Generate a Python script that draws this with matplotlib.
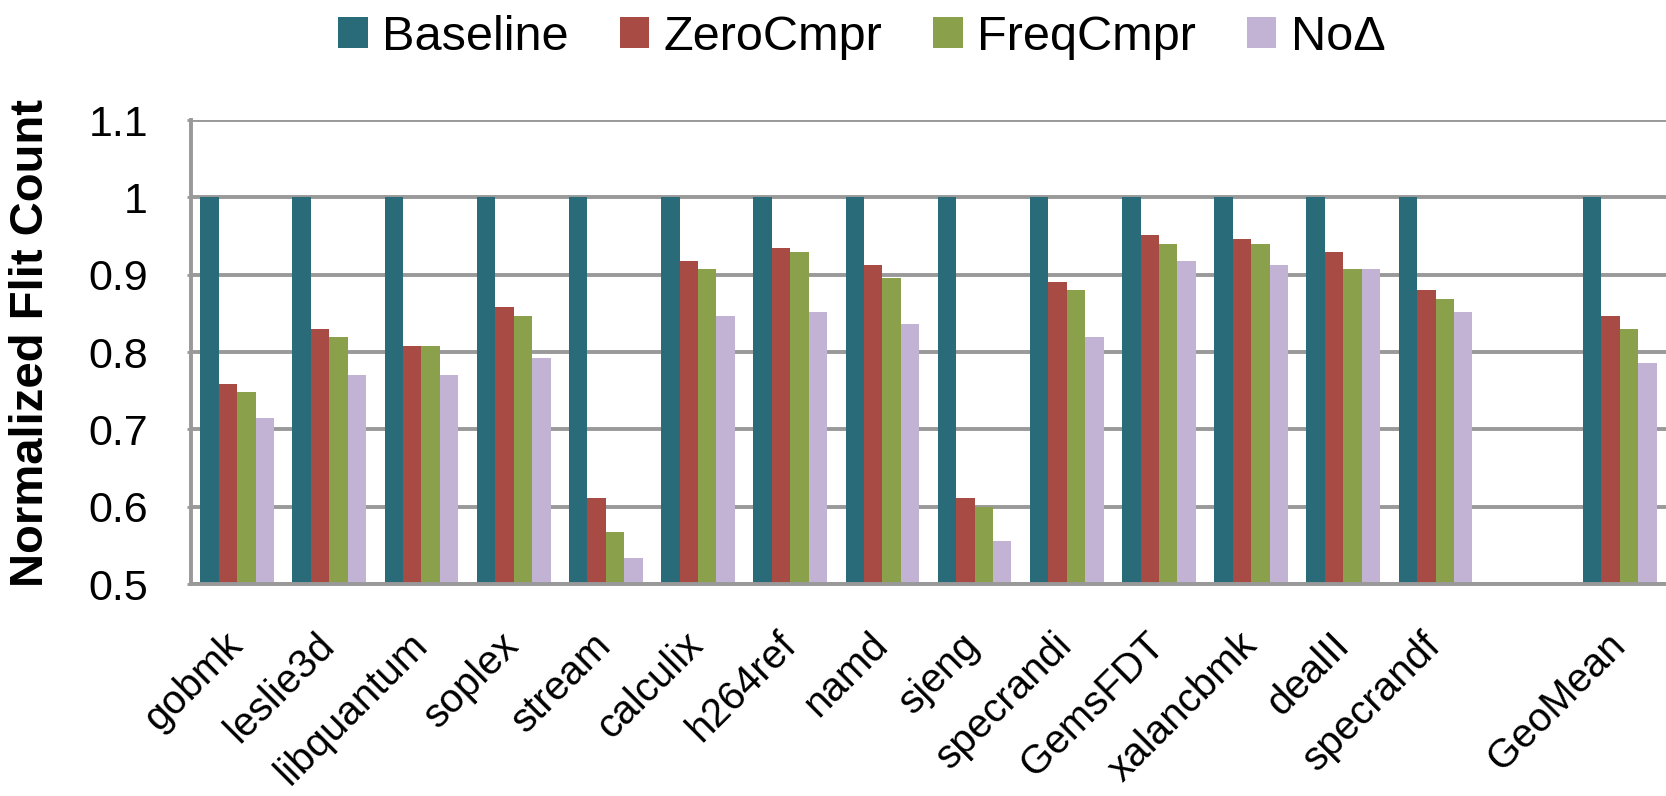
import numpy as np
import matplotlib.pyplot as plt
import matplotlib.transforms as mtransforms

plt.rcParams['font.family'] = ['Liberation Sans', 'DejaVu Sans']

benchmarks = ['gobmk', 'leslie3d', 'libquantum', 'soplex', 'stream', 'calculix',
              'h264ref', 'namd', 'sjeng', 'specrandi', 'GemsFDT', 'xalancbmk',
              'dealII', 'specrandf', 'GeoMean']
slots = [0, 1, 2, 3, 4, 5, 6, 7, 8, 9, 10, 11, 12, 13, 15]   # gap before GeoMean

baseline = [1.0] * 15
zero_cmpr = [0.759, 0.830, 0.808, 0.858, 0.611, 0.918, 0.934, 0.912, 0.611,
             0.891, 0.951, 0.946, 0.929, 0.880, 0.847]
freq_cmpr = [0.748, 0.819, 0.808, 0.847, 0.567, 0.907, 0.929, 0.896, 0.600,
             0.880, 0.940, 0.940, 0.907, 0.869, 0.830]
no_delta = [0.715, 0.770, 0.770, 0.792, 0.534, 0.847, 0.852, 0.836, 0.556,
            0.819, 0.918, 0.912, 0.907, 0.852, 0.786]

series = ['Baseline', 'ZeroCmpr', 'FreqCmpr', 'NoΔ']
colors = ['#2A6B7A', '#A84B45', '#8AA04A', '#C2B2D3']

fig = plt.figure(figsize=(16.66, 7.96), dpi=100)
ax = fig.add_axes([191 / 1666, 1 - 584 / 796, 1 - 191 / 1666, (584 - 120) / 796])

x = np.array(slots, dtype=float)
w = 0.2
for i, (vals, name, c) in enumerate(zip([baseline, zero_cmpr, freq_cmpr, no_delta], series, colors)):
    ax.bar(x + (i - 1.5) * w, vals, width=w, color=c, label=name,
           edgecolor='none', zorder=2)

ax.set_xlim(-0.5, 15.5)
ax.set_ylim(0.5, 1.1)
ax.set_yticks(np.arange(0.5, 1.11, 0.1))
ax.set_yticklabels(['0.5', '0.6', '0.7', '0.8', '0.9', '1', '1.1'], fontsize=31)
ax.grid(axis='y', color='#999999', linewidth=2.8)
ax.set_axisbelow(True)
ax.tick_params(axis='y', length=3, width=2, color='#999999', pad=28)

ax.set_xticks(x)
ax.set_xticklabels(benchmarks, fontsize=29, rotation=45, ha='right', va='top',
                   rotation_mode='anchor')
ax.tick_params(axis='x', length=0, pad=30)
# nudge the slanted names a little to the left
shift = mtransforms.ScaledTranslation(-14 / 100, 0, fig.dpi_scale_trans)
for lbl in ax.get_xticklabels():
    lbl.set_transform(lbl.get_transform() + shift)

for s in ['top', 'right']:
    ax.spines[s].set_visible(False)
for s in ['left', 'bottom']:
    ax.spines[s].set_color('#999999')
    ax.spines[s].set_linewidth(2.8)

fig.text(31 / 1666, 0.5685, 'Normalized Flit Count', rotation=90, ha='center',
         va='center', fontsize=34, fontweight='bold')

fig.legend(loc='upper center', bbox_to_anchor=(862 / 1666, 1.012), ncol=4,
           frameon=False, fontsize=35, handlelength=0.6, handleheight=0.6,
           handletextpad=0.3, columnspacing=1.05, borderaxespad=0.1)

fig.savefig('out.png', dpi=100)
